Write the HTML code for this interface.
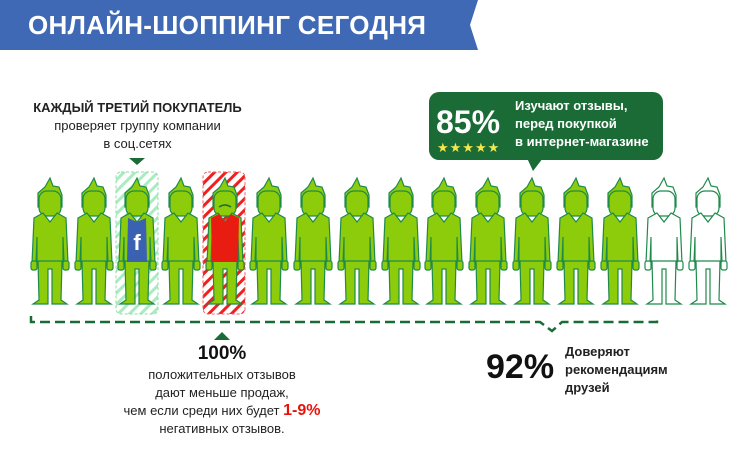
<!DOCTYPE html>
<html><head><meta charset="utf-8"><style>
body{margin:0;width:750px;height:468px;background:#fff;overflow:hidden;position:relative;font-family:"Liberation Sans","DejaVu Sans",sans-serif}
.t{position:absolute;white-space:nowrap}
</style></head><body>
<svg width="750" height="468" style="position:absolute;left:0;top:0">
<defs>
<symbol id="fig" viewBox="-22 0 44 130" overflow="visible">
 <path d="M-12 30 L-12 16 L-5 10 L0 1 L3 9 L9 10 L12 18 L12 30 Z" />
 <rect x="-11" y="14" width="22" height="25" rx="8"/>
 <path d="M-16 41 L-7 36 L0 45 L7 36 L16 41 L18 86 L14 86 L13 60 L13 85 L-13 85 L-13 60 L-14 86 L-18 86 Z"/>
 <rect x="-19" y="84" width="6" height="9" rx="2"/>
 <rect x="13" y="84" width="6" height="9" rx="2"/>
 <path d="M-12 84 L12 84 L11 123 L17 127 L2 127 L2 92 L-2 92 L-2 127 L-17 127 L-11 123 Z"/>
</symbol>
<pattern id="gh" width="8" height="8" patternUnits="userSpaceOnUse" patternTransform="rotate(-45)"><rect width="8" height="3" fill="#a8ecc0"/></pattern>
<pattern id="rh" width="8" height="8" patternUnits="userSpaceOnUse" patternTransform="rotate(-45)"><rect width="8" height="3" fill="#f02020"/></pattern>
</defs>
<path d="M0 0 H478 L470 25 L478 50 H0 Z" fill="#3f68b5"/>
<rect x="116" y="172" width="42" height="142" rx="5" fill="url(#gh)" stroke="#8fdca8" stroke-dasharray="3 2"/>
<rect x="203" y="172" width="42" height="142" rx="5" fill="url(#rh)" stroke="#f06060" stroke-dasharray="3 2"/>
<g fill="#8ccc0a" stroke="#1f8a4a" stroke-width="1.2">
<use href="#fig" x="28" y="177" width="44" height="130"/>
<use href="#fig" x="72" y="177" width="44" height="130"/>
<use href="#fig" x="115" y="177" width="44" height="130"/>
<use href="#fig" x="159" y="177" width="44" height="130"/>
<use href="#fig" x="203" y="177" width="44" height="130"/>
<use href="#fig" x="247" y="177" width="44" height="130"/>
<use href="#fig" x="291" y="177" width="44" height="130"/>
<use href="#fig" x="335" y="177" width="44" height="130"/>
<use href="#fig" x="379" y="177" width="44" height="130"/>
<use href="#fig" x="422" y="177" width="44" height="130"/>
<use href="#fig" x="466" y="177" width="44" height="130"/>
<use href="#fig" x="510" y="177" width="44" height="130"/>
<use href="#fig" x="554" y="177" width="44" height="130"/>
<use href="#fig" x="598" y="177" width="44" height="130"/>
</g>
<g fill="#fff" stroke="#1f8a4a" stroke-width="1.2">
<use href="#fig" x="642" y="177" width="44" height="130"/>
<use href="#fig" x="686" y="177" width="44" height="130"/>
</g>
<path d="M128 218 L137 222 L146 218 L147 262 L127 262 Z" fill="#3b62b0"/>
<text x="137" y="250" font-size="22" font-weight="bold" fill="#fff" text-anchor="middle">f</text>
<path d="M211 218 L219 214 L225 222 L231 214 L239 218 L238 262 L212 262 Z" fill="#e81c10"/>
<path d="M219 207 Q225 203 231 207" stroke="#1f6a3a" stroke-width="1.5" fill="none"/>
<path d="M129 158 L145 158 L137 165 Z" fill="#1b6b37"/>
<path d="M214 340 L230 340 L222 332 Z" fill="#1b6b37"/>
<path d="M31 316 V322 H540 L552 331 L562 322 H657 V316" fill="none" stroke="#1b6b37" stroke-width="2.5" stroke-dasharray="10 5"/>
<rect x="429" y="92" width="234" height="68" rx="10" fill="#1b6b37"/>
<path d="M527 158 L533 171 L543 158 Z" fill="#1b6b37"/>
</svg>
<div class="t" style="left:28px;top:10px;font-size:26px;font-weight:bold;color:#fff;letter-spacing:0.3px">ОНЛАЙН-ШОППИНГ СЕГОДНЯ</div>
<div class="t" style="left:0;width:275px;top:99px;text-align:center;font-size:13px;line-height:18px;color:#222"><b>КАЖДЫЙ ТРЕТИЙ ПОКУПАТЕЛЬ</b><br>проверяет группу компании<br>в соц.сетях</div>
<div class="t" style="left:436px;top:104px;font-size:32px;font-weight:900;color:#fff">85%</div>
<div class="t" style="left:437px;top:140px;font-size:13px;color:#f5e64a;letter-spacing:1px">★★★★★</div>
<div class="t" style="left:515px;top:97px;font-size:13px;font-weight:bold;line-height:18px;color:#fff">Изучают отзывы,<br>перед покупкой<br>в интернет-магазине</div>
<div class="t" style="left:90px;width:264px;top:343px;text-align:center;font-size:19px;font-weight:900;color:#111">100%</div>
<div class="t" style="left:90px;width:264px;top:366px;text-align:center;font-size:13px;line-height:18px;color:#222">положительных отзывов<br>дают меньше продаж,<br>чем если среди них будет <b style="color:#e8120a;font-size:16px">1-9%</b><br>негативных отзывов.</div>
<div class="t" style="left:486px;top:348px;font-size:34px;font-weight:900;color:#111">92%</div>
<div class="t" style="left:565px;top:343px;font-size:13px;font-weight:bold;line-height:18px;color:#222">Доверяют<br>рекомендациям<br>друзей</div>
</body></html>
